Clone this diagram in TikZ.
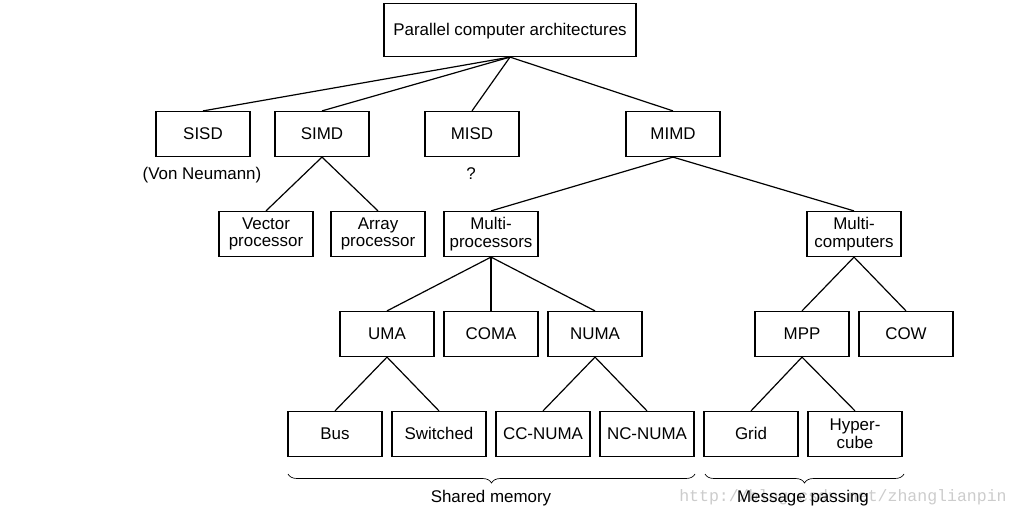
\documentclass[tikz,border=0pt]{standalone}
\usepackage{fontspec}
\setmainfont{Liberation Sans}
\newfontfamily\wmfont{Liberation Mono}
\usetikzlibrary{decorations.pathreplacing}
\begin{document}
\begin{tikzpicture}[x=0.75pt,y=-0.75pt,
  box/.style={draw, line width=0.9pt, minimum width=70.5pt, minimum height=33.75pt, inner sep=0pt, align=center, font=\fontsize{12.7}{13.3}\selectfont},
  onebox/.style={box, text height=10.6pt, text depth=2.7pt},
  twobox/.style={box, execute at begin node={\rule{0pt}{12.4pt}}},
  lbl/.style={inner sep=0pt, font=\fontsize{12.7}{13.3}\selectfont, text height=10.6pt, text depth=2.7pt},
  conn/.style={line width=0.9pt},
  brc/.style={line width=0.5pt, decorate, decoration={brace, mirror, amplitude=6.75pt}}]
\useasboundingbox (0,0) rectangle (1020,517);
% watermark
\node[inner sep=0pt, anchor=west, text=black!20, font=\wmfont\fontsize{12.4}{13}\selectfont] (wm) at (679,497) {http://blog.csdn.net/zhanglianpin};
% nodes
\node[onebox, minimum width=189pt, minimum height=39.75pt] (top) at (510,30) {Parallel computer architectures};
\node[onebox] (sisd) at (203,134) {SISD};
\node[onebox] (simd) at (322,134) {SIMD};
\node[onebox] (misd) at (472,134) {MISD};
\node[onebox] (mimd) at (673,134) {MIMD};
\node[lbl] (vn) at (202,174) {(Von Neumann)};
\node[lbl] (q) at (471,174) {?};
\node[twobox] (vec) at (266,234) {Vector\\processor};
\node[twobox] (arr) at (378,234) {Array\\processor};
\node[twobox] (mp) at (491,234) {Multi-\\processors};
\node[twobox] (mc) at (854,234) {Multi-\\computers};
\node[onebox] (uma) at (387,334) {UMA};
\node[onebox] (coma) at (491,334) {COMA};
\node[onebox] (numa) at (595,334) {NUMA};
\node[onebox] (mpp) at (802,334) {MPP};
\node[onebox] (cow) at (906,334) {COW};
\node[onebox] (bus) at (335,434) {Bus};
\node[onebox] (sw) at (439,434) {Switched};
\node[onebox] (ccn) at (543,434) {CC-NUMA};
\node[onebox] (ncn) at (647,434) {NC-NUMA};
\node[onebox] (grid) at (751,434) {Grid};
\node[twobox] (hyp) at (855,434) {Hyper-\\cube};
% connectors
\foreach \c in {sisd,simd,misd,mimd} \draw[conn] (top.south) -- (\c.north);
\foreach \c in {vec,arr} \draw[conn] (simd.south) -- (\c.north);
\foreach \c in {mp,mc} \draw[conn] (mimd.south) -- (\c.north);
\foreach \c in {uma,coma,numa} \draw[conn] (mp.south) -- (\c.north);
\foreach \c in {mpp,cow} \draw[conn] (mc.south) -- (\c.north);
\foreach \c in {bus,sw} \draw[conn] (uma.south) -- (\c.north);
\foreach \c in {ccn,ncn} \draw[conn] (numa.south) -- (\c.north);
\foreach \c in {grid,hyp} \draw[conn] (mpp.south) -- (\c.north);
% braces
\coordinate (s1) at (288,474);
\coordinate (s2) at (695,474);
\coordinate (m1) at (705,474);
\coordinate (m2) at (904,474);
\draw[brc] (s1) -- (s2);
\draw[brc] (m1) -- (m2);
\node[lbl] (shm) at (491,497) {Shared memory};
\node[lbl] (msg) at (803,497) {Message passing};
\end{tikzpicture}
\end{document}
